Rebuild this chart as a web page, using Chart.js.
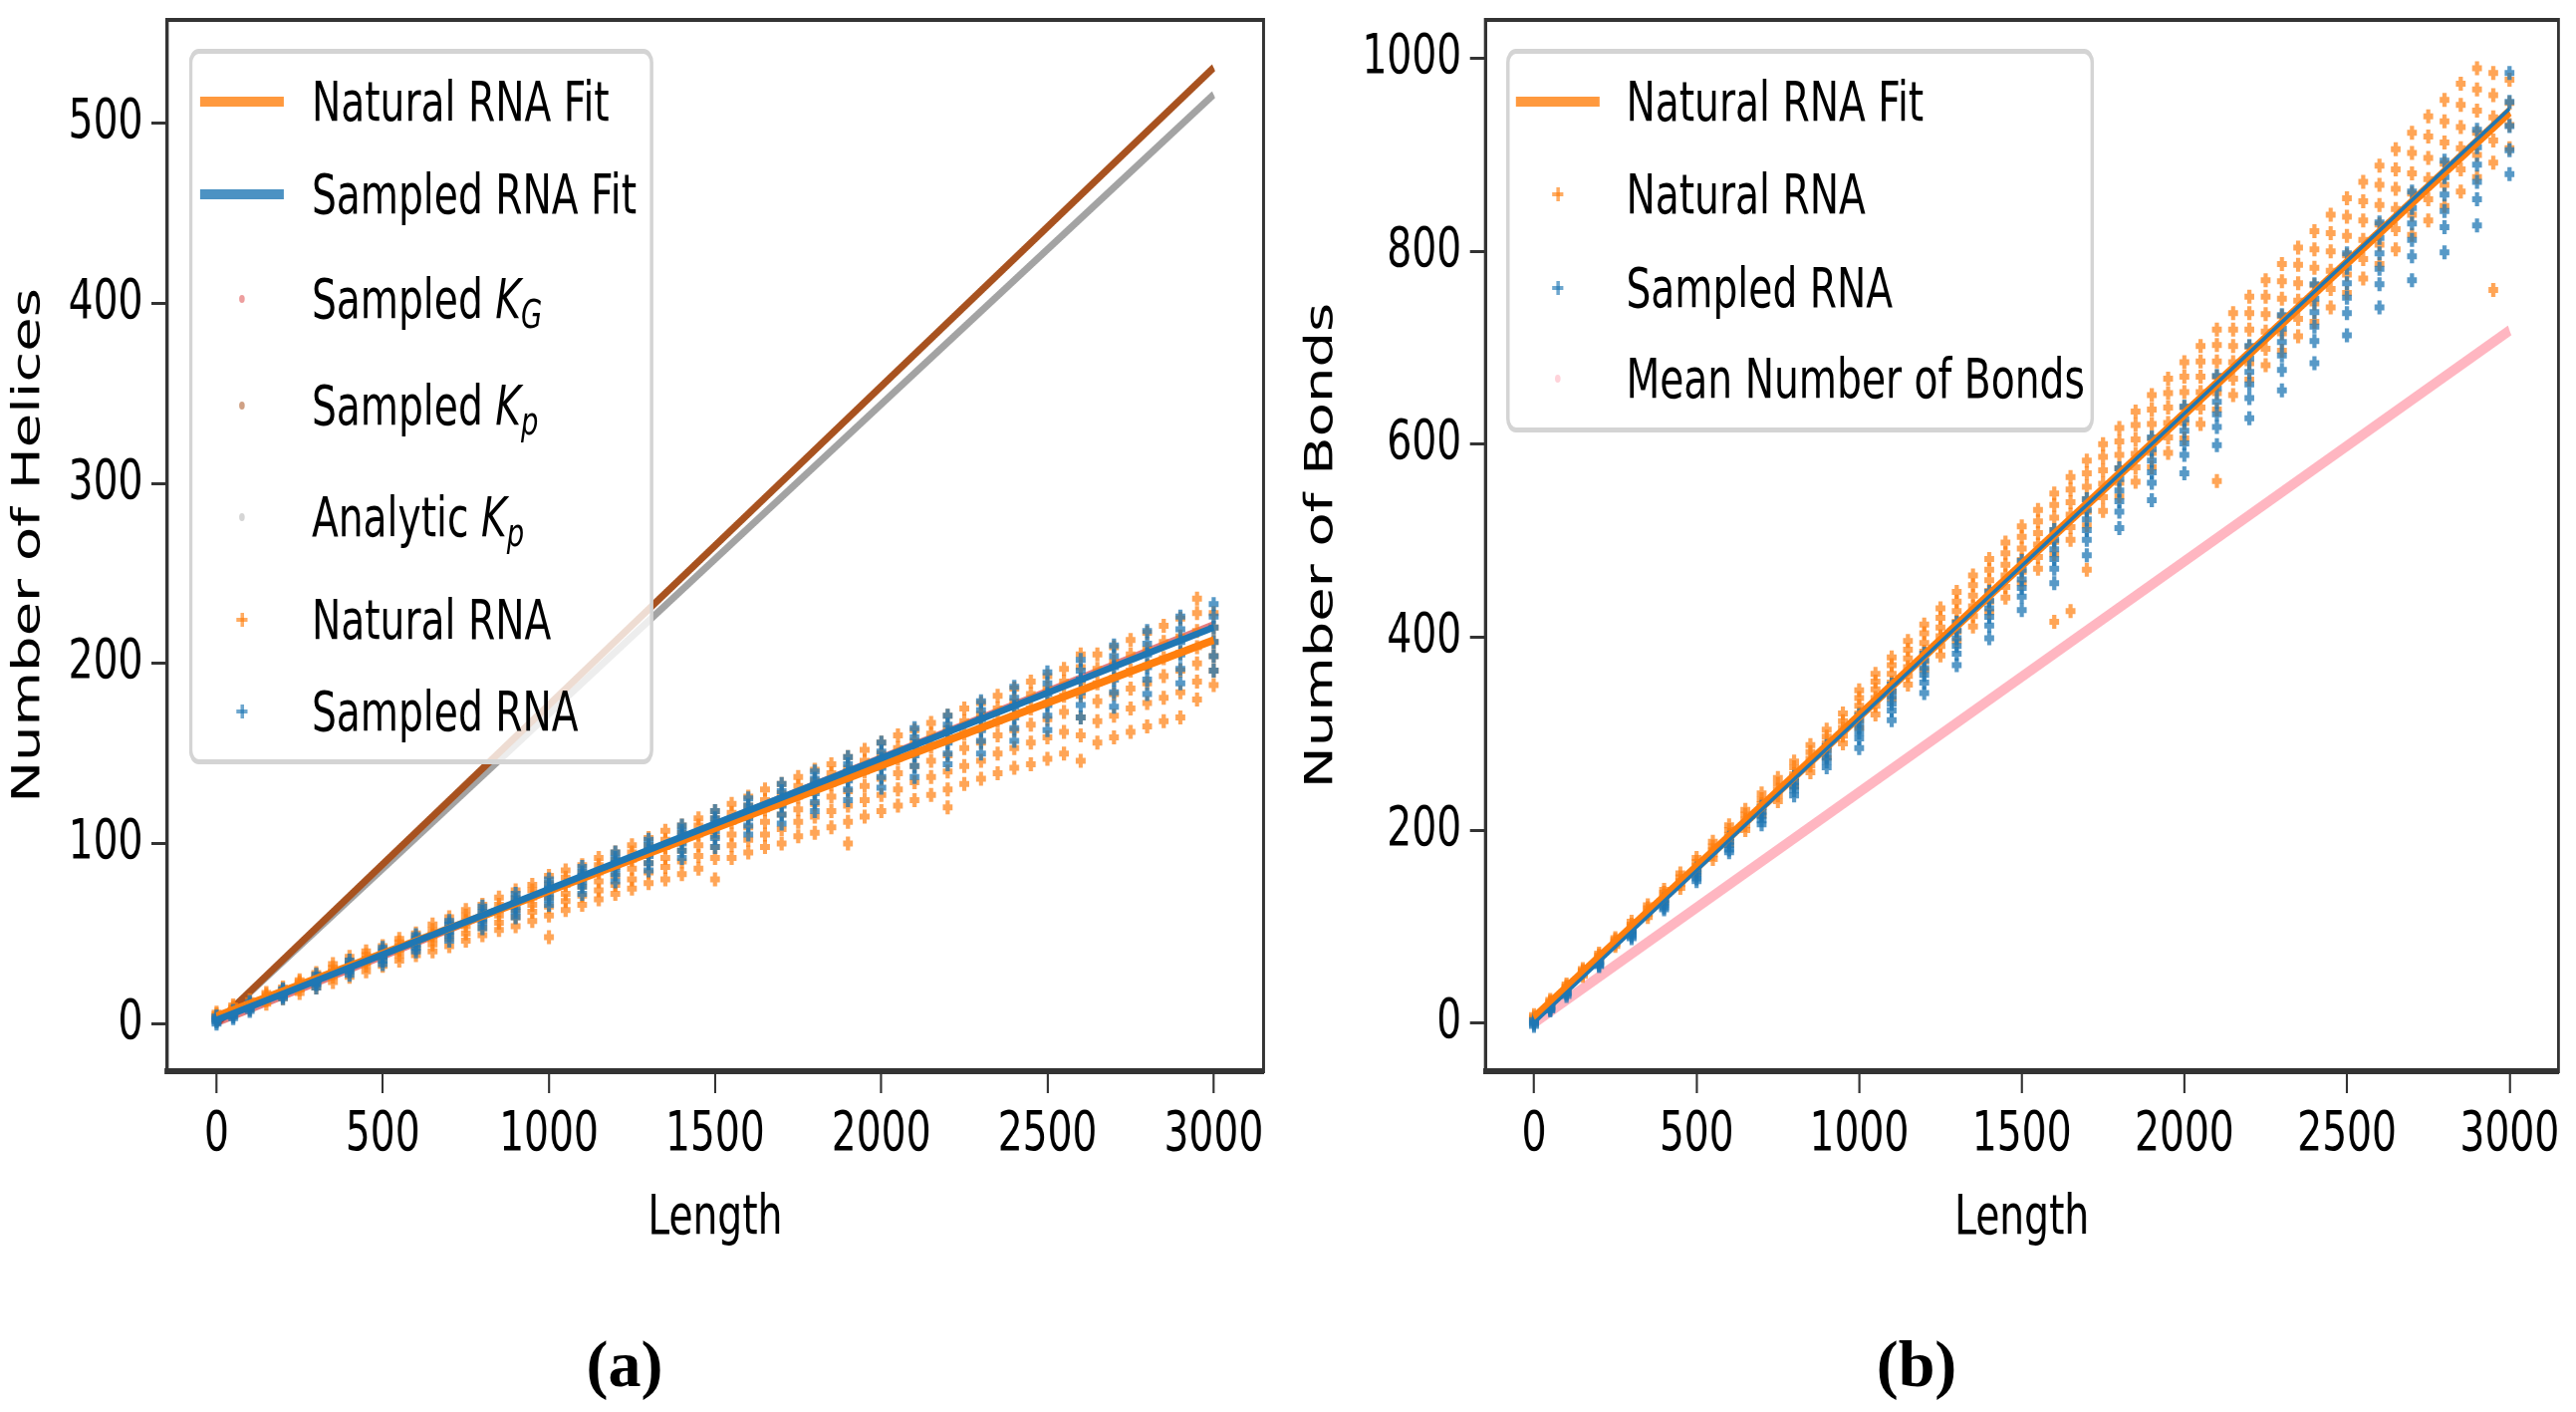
<!DOCTYPE html>
<html>
<head>
<meta charset="utf-8">
<title>Helices and bonds vs length</title>
<script src="https://cdn.jsdelivr.net/npm/chart.js@4.4.1/dist/chart.umd.min.js"></script>
<style>
  html, body { margin: 0; padding: 0; background: #fff; overflow: hidden; }
  #page { position: relative; width: 2586px; height: 1417px; overflow: hidden; }
  /* the original figure is squeezed horizontally, so draw wide and squeeze */
  #squash { position: absolute; left: 0; top: 0; width: 3694px; height: 1417px;
            transform: scaleX(0.7); transform-origin: 0 0; }
  #squash canvas { position: absolute; top: 0; }
  .legend { position: absolute; box-sizing: border-box; background: rgba(255,255,255,0.8);
            border: 5px solid #d4d4d4; border-radius: 14px;
            font-family: "DejaVu Sans"; font-size: 56px; color: #000; }
  .row { position: absolute; left: 0; right: 0; height: 0; }
  .txt { position: absolute; top: 0; transform: translateY(-50%); white-space: nowrap; line-height: 1; }
  .txt sub { font-size: 0.7em; line-height: 0; vertical-align: -0.25em; }
  .line { position: absolute; top: -5px; width: 120px; height: 10px; }
  .plus { position: absolute; top: -7px; width: 16px; height: 14px;
          background: linear-gradient(var(--c), var(--c)) center / 100% 4px no-repeat,
                      linear-gradient(var(--c), var(--c)) center / 5px 100% no-repeat; }
  .dot { position: absolute; top: -4px; width: 8px; height: 8px; border-radius: 50%; }
  .caption { position: absolute; top: 1369px; transform: translate(-50%, -50%);
             font-family: "Liberation Serif"; font-weight: bold; font-size: 66px; }
</style>
</head>
<body>
<div id="page">
  <div id="squash">
    <canvas id="helices" width="1847" height="1417" style="left:0; width:1847px; height:1417px;"></canvas>
    <canvas id="bonds" width="1847" height="1417" style="left:1847px; width:1847px; height:1417px;"></canvas>
    <div id="legendA" class="legend" style="left:271px; top:49px; width:666px; height:718px;"></div>
    <div id="legendB" class="legend" style="left:2160px; top:49px; width:843px; height:385px;"></div>
  </div>
  <div class="caption" style="left:627px;">(a)</div>
  <div class="caption" style="left:1924px;">(b)</div>
</div>

<script>
// ticks
const xTicks = [0, 500, 1000, 1500, 2000, 2500, 3000];
const helixTicks = [0, 100, 200, 300, 400, 500];
const bondTicks = [0, 200, 400, 600, 800, 1000];

// straight lines (fits and model curves), read at both ends
const fitLengths = [0, 3000];
const naturalFitHelices = [4, 213];
const sampledFitHelices = [2, 220];
const sampledKGHelices = [0, 222];
const sampledKpHelices = [0, 531];
const analyticKpHelices = [0, 516];
const naturalFitBonds = [5, 945];
const sampledFitBonds = [0, 948];
const meanBonds = [0, 718];

// scatter strips: one list of values per length
const naturalLengths = [0, 50, 100, 150, 200, 250, 300, 350, 400, 450, 500, 550, 600, 650, 700, 750,
  800, 850, 900, 950, 1000, 1050, 1100, 1150, 1200, 1250, 1300, 1350, 1400, 1450, 1500, 1550, 1600,
  1650, 1700, 1750, 1800, 1850, 1900, 1950, 2000, 2050, 2100, 2150, 2200, 2250, 2300, 2350, 2400,
  2450, 2500, 2550, 2600, 2650, 2700, 2750, 2800, 2850, 2900, 2950, 3000];
const sampledLengths = [0, 50, 100, 200, 300, 400, 500, 600, 700, 800, 900, 1000, 1100, 1200, 1300,
  1400, 1500, 1600, 1700, 1800, 1900, 2000, 2100, 2200, 2300, 2400, 2500, 2600, 2700, 2800, 2900, 3000];

const naturalHelices = [
  [2,3,4,5,6], [5,6,7,8,9,10], [8,10,11,12,13], [11,13,14,15,16,17], [14,16,17,18,19,20],
  [17,19,21,22,23,24], [20,22,24,25,27,28], [23,26,28,29,31,33], [26,29,31,33,35,37],
  [29,32,34,36,38,40], [32,35,37,39,41,43], [35,38,41,43,45,47], [38,41,44,46,48,50],
  [40,44,47,49,52,55], [43,47,50,53,56,59], [46,50,54,57,60,63], [49,53,57,60,63,66],
  [52,56,60,63,66,70], [54,59,63,67,70,74], [57,62,66,70,74,77], [48,60,65,70,74,78,82],
  [63,68,72,77,81,85], [66,71,76,80,84,88], [69,74,79,84,88,92], [72,77,82,87,91,95],
  [75,80,86,91,95,99], [78,84,89,94,99,103], [80,87,92,98,102,107], [83,90,96,101,106,110],
  [86,93,99,105,110,114], [80,92,98,104,109,114,118], [92,99,105,112,117,122],
  [95,102,109,115,121,126], [98,105,112,119,124,130], [100,108,116,122,128,133],
  [104,112,119,126,132,137], [106,115,122,129,135,141], [109,118,126,133,139,144],
  [100,112,121,129,136,142,148], [115,124,132,140,146,152], [118,127,136,143,150,156],
  [121,130,139,147,153,160], [124,134,143,150,157,163], [127,137,146,154,161,167],
  [120,130,140,149,157,164,171], [133,143,153,161,168,175], [136,146,156,164,172,178],
  [139,150,160,168,175,182], [142,153,163,171,179,186], [144,156,166,175,183,190],
  [147,159,169,178,186,193], [150,162,173,182,190,197], [146,160,170,182,190,198,205],
  [156,168,179,189,197,205], [159,171,183,192,201,209], [162,175,186,196,205,213],
  [165,178,189,199,208,217], [168,181,193,203,212,221], [170,184,196,206,215,225],
  [180,190,200,209,218,228,236], [188,196,204,212,220,228]
];
const sampledHelices = [
  [0,1,2,3,4], [3,4,5,6,7], [7,8,9,10,11,12], [14,15,16,17,18,19], [20,22,23,24,25,27],
  [27,29,30,31,33,35], [33,35,37,38,40,42], [40,42,44,46,47,49], [46,49,51,53,55,57],
  [53,56,58,60,62,65], [59,62,65,67,69,72], [66,69,72,75,77,80], [72,76,79,82,84,87],
  [79,83,86,89,92,95], [85,89,93,96,99,102], [92,96,100,104,107,110], [98,103,107,111,114,118],
  [105,110,114,118,121,125], [111,116,121,125,129,133], [118,123,128,133,136,140],
  [124,130,135,140,144,148], [131,137,142,147,151,156], [137,143,149,154,159,164],
  [144,150,156,162,166,171], [150,157,163,169,174,179], [157,164,170,176,181,187],
  [163,171,177,183,189,195], [170,177,184,191,196,202], [176,184,191,198,204,210],
  [183,191,198,205,211,218], [189,197,205,212,219,226], [196,204,212,220,226,233]
];
const naturalBonds = [
  [2,4,6,8], [18,20,21,22,24], [34,36,37,38,40], [49,51,53,54,56], [64,66,68,70,72],
  [80,82,84,86,88], [95,97,100,102,105], [110,113,116,119,122], [125,128,132,135,138],
  [140,144,147,151,155], [155,159,163,167,171], [170,175,179,183,188], [185,190,195,200,205],
  [200,205,211,216,221], [215,221,227,232,238], [230,236,242,248,254], [245,252,258,265,271],
  [260,267,274,281,288], [275,283,290,297,304], [290,298,306,313,321],
  [306,314,321,329,337,345], [320,329,337,346,354,362], [336,344,353,362,371,379],
  [351,360,369,378,387,396], [366,375,385,394,404,413], [381,391,401,410,420,430],
  [396,406,416,427,437,447], [411,422,432,443,454,464], [426,437,448,459,470,481],
  [441,452,464,475,487,498], [456,468,480,492,504,515], [471,483,496,508,520,532],
  [416,486,499,511,524,537,549], [427,501,514,527,540,553,566], [470,516,530,543,556,570,583],
  [531,545,559,573,587,600], [546,560,575,589,603,617], [561,576,590,605,620,634],
  [576,591,606,621,636,651], [591,607,622,638,653,668], [606,622,638,654,670,685],
  [621,638,654,670,686,702], [562,636,653,670,686,703,719], [651,668,685,702,719,736],
  [667,684,701,719,736,753], [682,699,717,735,753,770], [697,715,733,751,769,787],
  [712,730,749,767,786,804], [727,746,765,783,802,821], [742,761,780,800,819,838],
  [757,776,796,816,836,855], [772,792,812,832,852,872], [787,807,828,848,869,889],
  [802,823,844,865,885,906], [817,838,860,881,902,923], [832,854,875,897,919,940],
  [847,869,891,913,935,957], [862,885,907,929,952,974], [877,900,923,946,968,990],
  [760,892,915,939,962,985], [907,931,954,978]
];
const sampledBonds = [
  [-3,-1,1,3], [13,14,15,16,17], [28,30,31,32], [59,60,61,63,64], [88,90,92,94,96],
  [118,120,123,125,128], [147,150,153,157,160], [177,180,184,188,192], [206,210,215,219,224],
  [236,241,246,250,255], [265,271,276,282,287], [285,295,301,307,313,319],
  [314,324,331,338,344,351], [342,353,361,368,376,383], [371,383,391,399,407,415],
  [399,412,421,430,438,447], [428,442,451,460,470,479], [456,471,481,491,501,511],
  [485,501,511,522,532,543], [513,530,541,552,564,575], [542,560,571,583,595,607],
  [570,589,601,614,626,639], [599,618,631,644,658,671], [627,648,662,675,689,702],
  [656,677,692,706,720,734], [684,707,722,737,751,766], [713,736,752,767,783,798],
  [742,766,782,798,814,830], [770,795,812,829,845,862], [799,825,842,859,877,894],
  [827,854,872,890,908,926], [880,905,930,955,985]
];

const ORANGE = "#ff7f0e";
const BLUE = "#1f77b4";
const font = { family: "DejaVu Sans", size: 56 };

const strips = (lengths, values) => lengths.flatMap((x, i) => values[i].map(y => ({ x, y })));
const pairs = (xs, ys) => xs.map((x, i) => ({ x, y: ys[i] }));

function lineSet(label, data, color, width, order) {
  return { label, data, showLine: true, borderColor: color, borderWidth: width,
           pointRadius: 0, order };
}
function crossSet(label, data, color, order) {
  return { label, data, pointStyle: "cross", pointRadius: 7, borderWidth: 6,
           borderColor: color, backgroundColor: color, order };
}

// box round the plot area
const framePlugin = {
  id: "frame",
  afterDraw(chart) {
    const { ctx, chartArea: a } = chart;
    ctx.save();
    ctx.strokeStyle = "#333";
    ctx.lineWidth = 4;
    ctx.strokeRect(a.left, a.top, a.right - a.left, a.bottom - a.top);
    ctx.restore();
  }
};

function makeOptions(yMin, yMax, yTicks, yTitle, yWidth, titlePad, padRight) {
  const grid = { drawOnChartArea: false, tickLength: 22, tickWidth: 3, tickColor: "#333" };
  return {
    responsive: false,
    animation: false,
    devicePixelRatio: 1,
    layout: { padding: { left: 0, top: 20, right: padRight, bottom: 0 } },
    plugins: { legend: { display: false }, tooltip: { enabled: false } },
    scales: {
      x: {
        type: "linear", min: -150, max: 3150,
        afterBuildTicks: s => { s.ticks = xTicks.map(v => ({ value: v })); },
        afterFit: s => { s.height = 342; s.paddingLeft = 0; s.paddingRight = 0; },
        grid, border: { color: "#333", width: 6 },
        ticks: { font, color: "#000", padding: 9, maxRotation: 0, autoSkip: false,
                 callback: v => String(v) },
        title: { display: true, text: "Length", font, color: "#000",
                 padding: { top: 0, bottom: 160 } }
      },
      y: {
        type: "linear", min: yMin, max: yMax,
        afterBuildTicks: s => { s.ticks = yTicks.map(v => ({ value: v })); },
        afterFit: s => { s.width = yWidth; s.paddingTop = 0; s.paddingBottom = 0; },
        grid, border: { color: "#333", width: 5 },
        ticks: { font, color: "#000", padding: 12, autoSkip: false, callback: v => String(v) },
        title: { display: true, text: yTitle, font, color: "#000",
                 padding: { top: titlePad, bottom: 0 } }
      }
    }
  };
}

new Chart(document.getElementById("helices"), {
  type: "scatter",
  data: {
    datasets: [
      lineSet("Sampled RNA Fit", pairs(fitLengths, sampledFitHelices), BLUE, 7, 0),
      lineSet("Natural RNA Fit", pairs(fitLengths, naturalFitHelices), ORANGE, 8, 1),
      crossSet("Sampled RNA", strips(sampledLengths, sampledHelices), "rgba(31,119,180,0.75)", 2),
      crossSet("Natural RNA", strips(naturalLengths, naturalHelices), "rgba(255,127,14,0.7)", 3),
      lineSet("Sampled K_G", pairs(fitLengths, sampledKGHelices), "rgba(214,39,40,0.6)", 6, 4),
      lineSet("Sampled K_p", pairs(fitLengths, sampledKpHelices), "#a8521f", 8, 5),
      lineSet("Analytic K_p", pairs(fitLengths, analyticKpHelices), "#a3a3a3", 8, 6)
    ]
  },
  options: makeOptions(-26.5, 557.5, helixTicks, "Number of Helices", 239, 8, 35),
  plugins: [framePlugin]
});

new Chart(document.getElementById("bonds"), {
  type: "scatter",
  data: {
    datasets: [
      lineSet("Sampled RNA Fit", pairs(fitLengths, sampledFitBonds), BLUE, 4, 0),
      lineSet("Natural RNA Fit", pairs(fitLengths, naturalFitBonds), ORANGE, 10, 1),
      crossSet("Sampled RNA", strips(sampledLengths, sampledBonds), "rgba(31,119,180,0.75)", 2),
      crossSet("Natural RNA", strips(naturalLengths, naturalBonds), "rgba(255,127,14,0.7)", 3),
      lineSet("Mean Number of Bonds", pairs(fitLengths, meanBonds), "#ffb6c1", 11, 4)
    ]
  },
  options: makeOptions(-50, 1040, bondTicks, "Number of Bonds", 283, 15, 25),
  plugins: [framePlugin]
});

// legends (html, so the subscripts come out right)
const legendA = [
  { html: "Natural RNA Fit", kind: "line", color: "rgba(255,127,14,0.8)" },
  { html: "Sampled RNA Fit", kind: "line", color: "rgba(31,119,180,0.8)" },
  { html: "Sampled <i>K</i><sub><i>G</i></sub>", kind: "dot", color: "rgba(214,39,40,0.45)" },
  { html: "Sampled <i>K</i><sub><i>p</i></sub>", kind: "dot", color: "rgba(168,82,31,0.55)" },
  { html: "Analytic <i>K</i><sub><i>p</i></sub>", kind: "dot", color: "rgba(150,150,150,0.4)" },
  { html: "Natural RNA", kind: "plus", color: "rgba(255,127,14,0.65)" },
  { html: "Sampled RNA", kind: "plus", color: "rgba(31,119,180,0.65)" }
];
const legendB = [
  { html: "Natural RNA Fit", kind: "line", color: "rgba(255,127,14,0.8)" },
  { html: "Natural RNA", kind: "plus", color: "rgba(255,127,14,0.65)" },
  { html: "Sampled RNA", kind: "plus", color: "rgba(31,119,180,0.65)" },
  { html: "Mean Number of Bonds", kind: "dot", color: "rgba(255,182,193,0.6)" }
];

function handle(item, left) {
  if (item.kind === "line") {
    return `<span class="line" style="left:${left}px; background:${item.color}"></span>`;
  }
  if (item.kind === "plus") {
    return `<span class="plus" style="left:${left + 52}px; --c:${item.color}"></span>`;
  }
  return `<span class="dot" style="left:${left + 56}px; background:${item.color}"></span>`;
}

function buildLegend(id, items, rows, handleLeft, textLeft) {
  document.getElementById(id).innerHTML = items.map((item, i) => `
    <div class="row" style="top:${rows[i]}px">
      ${handle(item, handleLeft)}
      <span class="txt" style="left:${textLeft}px">${item.html}</span>
    </div>`).join("");
}

buildLegend("legendA", legendA, [48, 141, 246, 353, 465, 568, 660], 11, 171);
buildLegend("legendB", legendB, [48, 141, 235, 326], 9, 167);
</script>
</body>
</html>
